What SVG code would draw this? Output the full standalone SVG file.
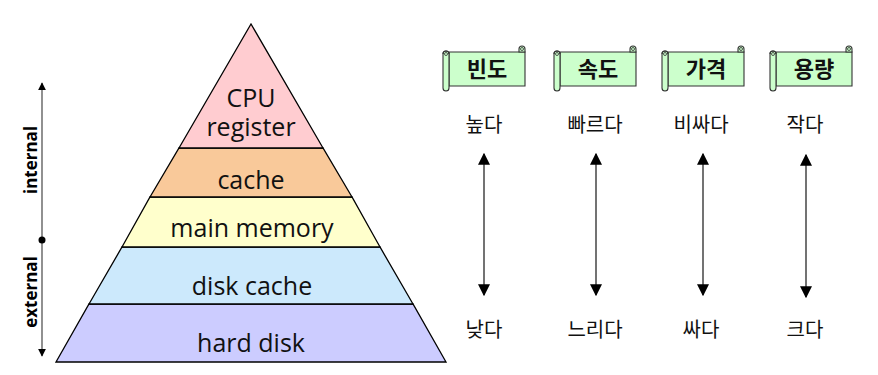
<svg xmlns="http://www.w3.org/2000/svg" width="878" height="375" viewBox="0 0 878 375">
<style>
.lay{stroke:#000;stroke-width:1.3;stroke-linejoin:miter}
.pt{font-family:"Open Sans","Noto Sans",sans-serif;font-size:25px;fill:#111;text-anchor:middle}
.ax{font-family:"Open Sans","Noto Sans",sans-serif;font-size:17px;font-weight:bold;fill:#000;text-anchor:middle}
.kt{font-family:"Noto Sans CJK KR",sans-serif;font-size:20px;fill:#111;text-anchor:middle}
.bt{font-family:"Noto Sans CJK KR",sans-serif;font-size:22px;font-weight:bold;fill:#111;text-anchor:middle}
.sc{fill:#ccffcc;stroke:#333;stroke-width:1.1}
.ar{stroke:#444;stroke-width:1.5;fill:none}
</style>
<defs>
<marker id="ah" viewBox="0 0 10 10" refX="9" refY="5" markerWidth="12" markerHeight="12" markerUnits="userSpaceOnUse" orient="auto-start-reverse">
<path d="M0,0 L10,5 L0,10 Z" fill="#000"/>
</marker>
<marker id="ahs" viewBox="0 0 10 10" refX="9" refY="5" markerWidth="8" markerHeight="8" markerUnits="userSpaceOnUse" orient="auto-start-reverse">
<path d="M0,0 L10,5 L0,10 Z" fill="#000"/>
</marker>
<g id="scroll">
<path class="sc" d="M9,7 H85 V41 H9 Z"/>
<path class="sc" d="M79,7 V4 A3,3 0 0 1 85,4 V7 Z"/>
<circle cx="82" cy="4" r="1.5" fill="none" stroke="#333" stroke-width="0.8"/>
<path class="sc" d="M3,9 A3,3 0 0 1 9,9 V43 A3,3 0 0 1 3,43 Z"/>
<path d="M3,9 A3,3 0 0 1 9,9" fill="none" stroke="#333" stroke-width="1.1"/>
<circle cx="6" cy="9" r="1.5" fill="none" stroke="#333" stroke-width="0.8"/>
</g>
</defs>

<g id="pyramid">
<g id="layer-hard-disk"><polygon class="lay" fill="#ccccff" points="56,362 446,362 413,304 89,304"/><text class="pt" x="251" y="352">hard disk</text></g>
<g id="layer-disk-cache"><polygon class="lay" fill="#cce9fc" points="89,304 413,304 380,247 122,247"/><text class="pt" x="252" y="295">disk cache</text></g>
<g id="layer-main-memory"><polygon class="lay" fill="#ffffcc" points="122,247 380,247 352,197 150,197"/><text class="pt" x="252" y="237">main memory</text></g>
<g id="layer-cache"><polygon class="lay" fill="#f9c99a" points="150,197 352,197 323,148 179,148"/><text class="pt" x="251" y="189">cache</text></g>
<g id="layer-cpu"><polygon class="lay" fill="#ffccd0" points="179,148 323,148 251,24"/><text class="pt"><tspan x="251" y="107">CPU</tspan><tspan x="251" y="136">register</tspan></text></g>
</g>

<g id="axis">
<line x1="42" y1="240" x2="42" y2="83" stroke="#555" stroke-width="1.3" marker-end="url(#ahs)"/>
<line x1="42" y1="240" x2="42" y2="356" stroke="#555" stroke-width="1.3" marker-end="url(#ahs)"/>
<circle cx="42" cy="240" r="3.5" fill="#000"/>
<text class="ax" transform="translate(37,160) rotate(-90)">internal</text>
<text class="ax" transform="translate(37,292) rotate(-90)">external</text>
</g>

<g id="banner-freq"><use href="#scroll" x="440" y="45"/><text class="bt" x="487" y="77">빈도</text></g>
<g id="banner-speed"><use href="#scroll" x="551" y="45"/><text class="bt" x="598" y="77">속도</text></g>
<g id="banner-price"><use href="#scroll" x="659" y="45"/><text class="bt" x="706" y="77">가격</text></g>
<g id="banner-size"><use href="#scroll" x="767" y="45"/><text class="bt" x="814" y="77">용량</text></g>

<g id="labels-top">
<text class="kt" x="484" y="132">높다</text>
<text class="kt" x="595" y="132">빠르다</text>
<text class="kt" x="701" y="132">비싸다</text>
<text class="kt" x="805" y="132">작다</text>
</g>
<g id="labels-bottom">
<text class="kt" x="484" y="337">낮다</text>
<text class="kt" x="595" y="337">느리다</text>
<text class="kt" x="701" y="337">싸다</text>
<text class="kt" x="805" y="337">크다</text>
</g>

<g id="connectors">
<line class="ar" x1="484" y1="154" x2="484" y2="295" marker-start="url(#ah)" marker-end="url(#ah)"/>
<line class="ar" x1="596" y1="154" x2="596" y2="295" marker-start="url(#ah)" marker-end="url(#ah)"/>
<line class="ar" x1="703" y1="154" x2="703" y2="295" marker-start="url(#ah)" marker-end="url(#ah)"/>
<line class="ar" x1="806" y1="155" x2="806" y2="297" marker-start="url(#ah)" marker-end="url(#ah)"/>
</g>
</svg>
